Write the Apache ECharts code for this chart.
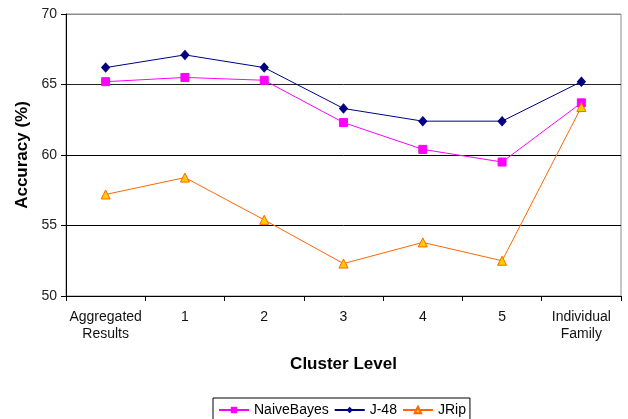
<!DOCTYPE html>
<html>
<head>
<meta charset="utf-8">
<script src="https://cdn.jsdelivr.net/npm/echarts@6/dist/echarts.min.js"></script>
<style>
  html, body { margin: 0; padding: 0; background: #fff; }
  #chart { width: 628px; height: 419px; }
</style>
</head>
<body>
<div id="chart"></div>
<script>
// Accuracy per clustering level for three classifiers
const categories = ['Aggregated\nResults', '1', '2', '3', '4', '5', 'Individual\nFamily'];
const naiveBayes = [65.2, 65.5, 65.3, 62.3, 60.4, 59.5, 63.7];
const j48 = [66.2, 67.1, 66.2, 63.3, 62.4, 62.4, 65.2];
const jrip = [57.2, 58.4, 55.4, 52.3, 53.8, 52.5, 63.4];
const yTicks = { min: 50, max: 70, interval: 5 };

const font = 'Arial, "Liberation Sans", sans-serif';
const chart = echarts.init(document.getElementById('chart'), null, { renderer: 'canvas' });

chart.setOption({
  animation: false,
  textStyle: { fontFamily: font },
  grid: {
    left: 66, right: 7, top: 14, bottom: 123,
    show: true, borderColor: '#8c8c8c', borderWidth: 1, backgroundColor: 'transparent'
  },
  legend: {
    bottom: -6, left: 213,
    itemWidth: 30, itemHeight: 8, itemGap: 5,
    padding: [5, 4, 8, 5],
    borderColor: '#000', borderWidth: 1,
    textStyle: { fontFamily: font, fontSize: 14, color: '#000' },
    data: ['NaiveBayes', 'J-48', 'JRip']
  },
  xAxis: {
    type: 'category',
    data: categories,
    boundaryGap: true,
    name: 'Cluster Level',
    nameLocation: 'middle',
    nameGap: 60,
    nameTextStyle: { fontFamily: font, fontSize: 17, fontWeight: 'bold', color: '#000' },
    axisLine: { lineStyle: { color: '#000', width: 1 } },
    axisTick: { show: true, interval: 0, length: 5, lineStyle: { color: '#000' } },
    axisLabel: { interval: 0, fontFamily: font, fontSize: 14, color: '#111', margin: 13, lineHeight: 17 }
  },
  yAxis: {
    type: 'value',
    min: yTicks.min, max: yTicks.max, interval: yTicks.interval,
    name: 'Accuracy (%)',
    nameLocation: 'middle',
    nameGap: 35,
    nameTextStyle: { fontFamily: font, fontSize: 17, fontWeight: 'bold', color: '#000' },
    axisLine: { show: true, lineStyle: { color: '#000', width: 1 } },
    axisTick: { show: true, length: 5, lineStyle: { color: '#000' } },
    axisLabel: { fontFamily: font, fontSize: 14, color: '#222', margin: 9 },
    splitLine: { show: true, lineStyle: { color: ['transparent', '#000', '#000', '#222', '#8c8c8c'], width: 1 } }
  },
  series: [
    {
      name: 'NaiveBayes', type: 'line', data: naiveBayes,
      symbol: 'rect', symbolSize: 8,
      lineStyle: { color: '#ff00ff', width: 1 },
      itemStyle: { color: '#ff00ff', borderColor: '#ff00ff' },
      z: 3
    },
    {
      name: 'J-48', type: 'line', data: j48,
      symbol: 'diamond', symbolSize: [8, 9],
      lineStyle: { color: '#000080', width: 1 },
      itemStyle: { color: '#000080', borderColor: '#000080' },
      z: 4
    },
    {
      name: 'JRip', type: 'line', data: jrip,
      symbol: 'triangle', symbolSize: 9,
      lineStyle: { color: '#ff6600', width: 1 },
      itemStyle: { color: '#ffcc00', borderColor: '#ff6600', borderWidth: 1 },
      z: 5
    }
  ]
});
</script>
</body>
</html>
